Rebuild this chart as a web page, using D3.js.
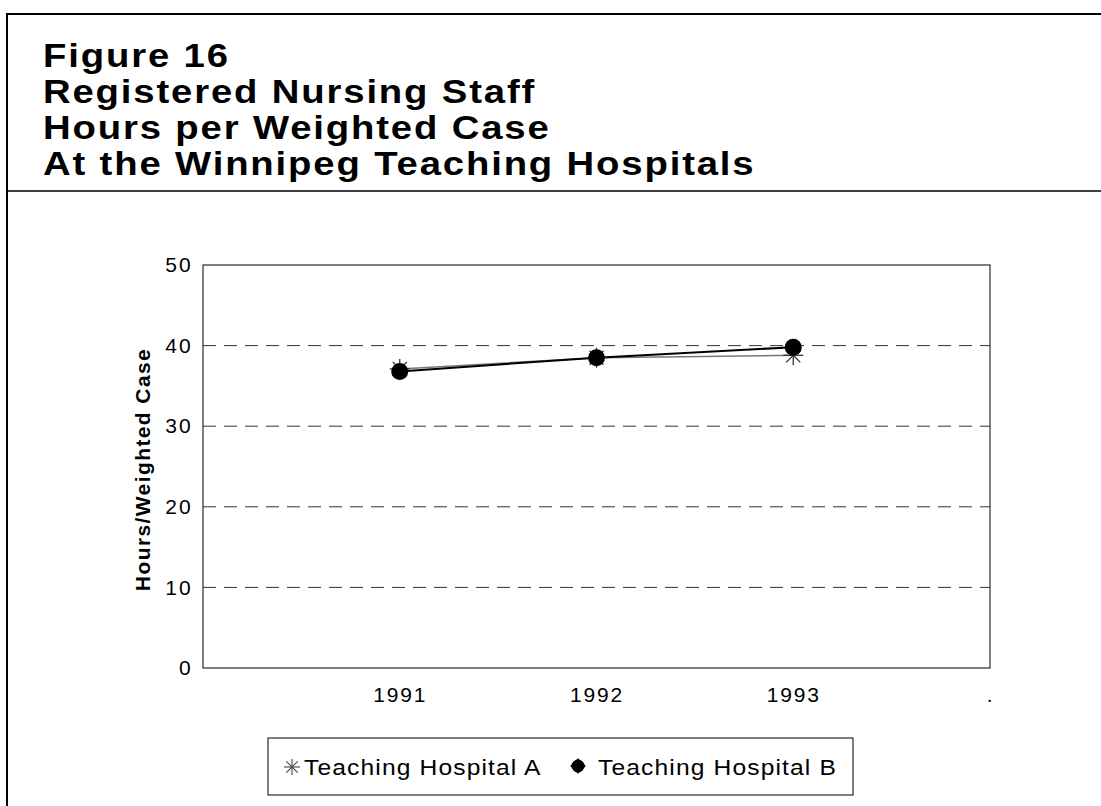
<!DOCTYPE html>
<html>
<head>
<meta charset="utf-8">
<script src="https://cdn.jsdelivr.net/npm/d3@7"></script>
<style>
  body { margin: 0; background: #fff; }
  text { font-family: "Liberation Sans", Arial, Helvetica, sans-serif; fill: #000; }
</style>
</head>
<body>
<div id="chart"></div>
<script>
// chart data
var titleLines = ["Figure 16", "Registered Nursing Staff", "Hours per Weighted Case", "At the Winnipeg Teaching Hospitals"];
var xLabels = ["", "1991", "1992", "1993", "."];
var years = ["1991", "1992", "1993"];
var hospitalA = [37.1, 38.5, 38.8];
var hospitalB = [36.8, 38.5, 39.8];
var yTicks = [0, 10, 20, 30, 40, 50];
var seriesNames = ["Teaching Hospital A", "Teaching Hospital B"];

var W = 1101, H = 806;
var plot = {left: 203, right: 990, top: 265, bottom: 668};

var svg = d3.select("#chart").append("svg")
    .attr("width", W)
    .attr("height", H);

// outer frame and title rule
svg.append("line").attr("x1", 7).attr("x2", W).attr("y1", 14).attr("y2", 14)
    .attr("stroke", "#000").attr("stroke-width", 2);
svg.append("line").attr("x1", 7).attr("x2", 7).attr("y1", 13).attr("y2", H)
    .attr("stroke", "#000").attr("stroke-width", 2);
svg.append("line").attr("x1", 7).attr("x2", W).attr("y1", 191).attr("y2", 191)
    .attr("stroke", "#000").attr("stroke-width", 1.5);

// title, slightly stretched like the scanned original
svg.selectAll(".title")
    .data(titleLines)
  .enter().append("text")
    .attr("class", "title")
    .attr("transform", function(d, i) { return "translate(43," + (67 + i * 36) + ")scale(1.16,1)"; })
    .style("font-size", "33px")
    .style("font-weight", "bold")
    .style("letter-spacing", "1.6px")
    .text(function(d) { return d; });

// scales
var x = d3.scalePoint().domain(xLabels).range([plot.left, plot.right]);
var y = d3.scaleLinear().domain([0, 50]).range([plot.bottom, plot.top]);

// gridlines
svg.selectAll(".grid")
    .data(yTicks.filter(function(d) { return d > 0 && d < 50; }))
  .enter().append("line")
    .attr("x1", plot.left).attr("x2", plot.right)
    .attr("y1", function(d) { return y(d); })
    .attr("y2", function(d) { return y(d); })
    .attr("stroke", "#333")
    .attr("stroke-width", 1)
    .attr("stroke-dasharray", "13,8");

// plot frame
svg.append("rect")
    .attr("x", plot.left).attr("y", plot.top)
    .attr("width", plot.right - plot.left)
    .attr("height", plot.bottom - plot.top)
    .attr("fill", "none")
    .attr("stroke", "#000")
    .attr("stroke-width", 1);

// y axis labels
var yAxis = svg.append("g")
    .attr("transform", "translate(" + plot.left + ",0)")
    .call(d3.axisLeft(y).tickValues(yTicks).tickSize(0).tickPadding(10));
yAxis.select(".domain").remove();
yAxis.selectAll("text")
    .style("font-size", "21px")
    .style("letter-spacing", "2.2px")
    .style("font-family", "'Liberation Sans', Arial, sans-serif");

// x axis labels
var xAxis = svg.append("g")
    .attr("transform", "translate(0," + plot.bottom + ")")
    .call(d3.axisBottom(x).tickSize(0).tickPadding(19));
xAxis.select(".domain").remove();
xAxis.selectAll("text")
    .style("font-size", "21px")
    .style("letter-spacing", "1.8px")
    .style("font-family", "'Liberation Sans', Arial, sans-serif");

// y axis title
svg.append("text")
    .attr("transform", "translate(150," + ((plot.top + plot.bottom) / 2 + 3) + ")rotate(-90)")
    .attr("text-anchor", "middle")
    .style("font-size", "21px")
    .style("font-weight", "bold")
    .style("letter-spacing", "1.4px")
    .text("Hours/Weighted Case");

// lines
var dataA = years.map(function(d, i) { return {year: d, value: hospitalA[i]}; });
var dataB = years.map(function(d, i) { return {year: d, value: hospitalB[i]}; });

var valueline = d3.line()
    .x(function(d) { return x(d.year); })
    .y(function(d) { return y(d.value); });

svg.append("path")
    .datum(dataA)
    .attr("fill", "none")
    .attr("stroke", "#777")
    .attr("stroke-width", 1.5)
    .attr("d", valueline);

svg.append("path")
    .datum(dataB)
    .attr("fill", "none")
    .attr("stroke", "#000")
    .attr("stroke-width", 2)
    .attr("d", valueline);

// asterisk marker
function asterisk(g, cx, cy, r, colour, sw) {
  [0, 45, 90, 135].forEach(function(a) {
    var rad = a * Math.PI / 180;
    g.append("line")
      .attr("x1", cx - r * Math.cos(rad)).attr("y1", cy - r * Math.sin(rad))
      .attr("x2", cx + r * Math.cos(rad)).attr("y2", cy + r * Math.sin(rad))
      .attr("stroke", colour)
      .attr("stroke-width", sw);
  });
}

var markA = svg.append("g");
dataA.forEach(function(d) {
  asterisk(markA, x(d.year), y(d.value), 10, "#333", 1.3);
});

svg.selectAll(".dotB")
    .data(dataB)
  .enter().append("circle")
    .attr("class", "dotB")
    .attr("r", 8.5)
    .attr("fill", "#000")
    .attr("cx", function(d) { return x(d.year); })
    .attr("cy", function(d) { return y(d.value); });

// legend
var legend = svg.append("g");
legend.append("rect")
    .attr("x", 268).attr("y", 738)
    .attr("width", 585).attr("height", 57)
    .attr("fill", "none")
    .attr("stroke", "#000")
    .attr("stroke-width", 1);

asterisk(legend, 292, 767, 8, "#444", 1.1);
legend.append("text")
    .attr("transform", "translate(304,775)scale(1.12,1)")
    .style("font-size", "22px")
    .style("letter-spacing", "1px")
    .text(seriesNames[0]);

legend.append("path")
    .attr("transform", "translate(578,766)rotate(45)")
    .attr("d", d3.symbol().type(d3.symbolSquare).size(120))
    .attr("fill", "#000");
legend.append("circle")
    .attr("cx", 578).attr("cy", 766)
    .attr("r", 6.5)
    .attr("fill", "#000");
legend.append("text")
    .attr("transform", "translate(598,775)scale(1.12,1)")
    .style("font-size", "22px")
    .style("letter-spacing", "1px")
    .text(seriesNames[1]);
</script>
</body>
</html>
